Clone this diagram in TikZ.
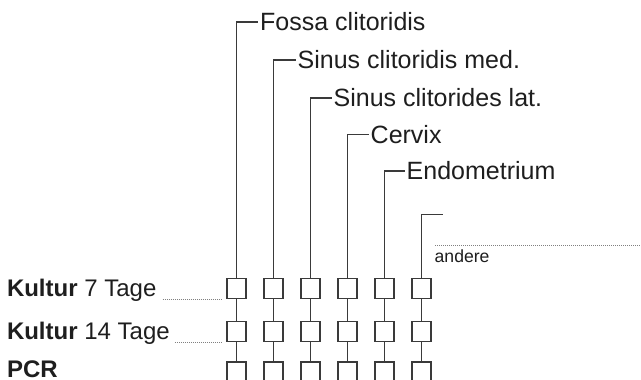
\documentclass[tikz,border=0pt]{standalone}
\usepackage{fontspec}
\setmainfont{Liberation Sans}
\definecolor{ln}{HTML}{3A3A3A}
\definecolor{tx}{HTML}{1E1E1E}
\tikzset{
  conn/.style={draw=ln, line width=1.6pt},
  cell/.style={draw=ln, line width=1.6pt, minimum width=19.5pt, minimum height=20pt, inner sep=0pt},
  lab/.style={text=tx, font=\fontsize{25}{30}\selectfont, inner xsep=2pt, inner ysep=0pt, text height=17.9pt, text depth=0pt, anchor=west},
  rowlab/.style={text=tx, font=\fontsize{24}{29}\selectfont, inner sep=0pt, anchor=base west},
  smalllab/.style={text=tx, font=\fontsize{17.6}{21}\selectfont, inner sep=0pt, anchor=base west},
  dotline/.style={draw=gray, line width=0.7pt, dash pattern=on 1pt off 1pt},
}
\begin{document}
\begin{tikzpicture}[x=1pt,y=-1pt]
\useasboundingbox (0,0) rectangle (641,380);
% boxes
\foreach \i/\x in {1/236.5,2/273.5,3/310.5,4/347.5,5/384.5,6/421.5}{
  \node[cell] (b\i1) at (\x,288.3) {};
  \node[cell] (b\i2) at (\x,331.5) {};
  \node[cell] (b\i3) at (\x,371.8) {};
  \draw[conn] (b\i1.south) -- (b\i2.north);
  \draw[conn] (b\i2.south) -- (b\i3.north);
}
% column labels
\node[lab] (t1) at (258,21.7) {Fossa clitoridis};
\node[lab] (t2) at (295.5,60) {Sinus clitoridis med.};
\node[lab] (t3) at (331.5,97.7) {Sinus clitorides lat.};
\node[lab] (t4) at (368.5,134.3) {Cervix};
\node[lab] (t5) at (404.5,170.7) {Endometrium};
\coordinate (t6) at (443,214.3);
\foreach \i in {1,...,6}{
  \draw[conn] (b\i1.north) |- (t\i);
}
\draw[conn] (b11.north) |- (t1.west);
% andere
\coordinate (a0) at (435,245);
\coordinate (a1) at (640,245);
\draw[dotline] (a0) -- (a1);
\node[smalllab] (an) at (434.5,262.5) {andere};
% row labels
\node[rowlab] (k1) at (6.8,296) {\textbf{Kultur} 7 Tage};
\node[rowlab] (k2) at (6.8,339.3) {\textbf{Kultur} 14 Tage};
\node[rowlab] (k3) at (6.8,377) {\textbf{PCR}};
\draw[dotline] ([xshift=6pt]k1.east |- b11.south) -- ([xshift=-4pt]b11.south west);
\draw[dotline] ([xshift=5pt]k2.east |- b12.south) -- ([xshift=-3.5pt]b12.south west);
\end{tikzpicture}
\end{document}
